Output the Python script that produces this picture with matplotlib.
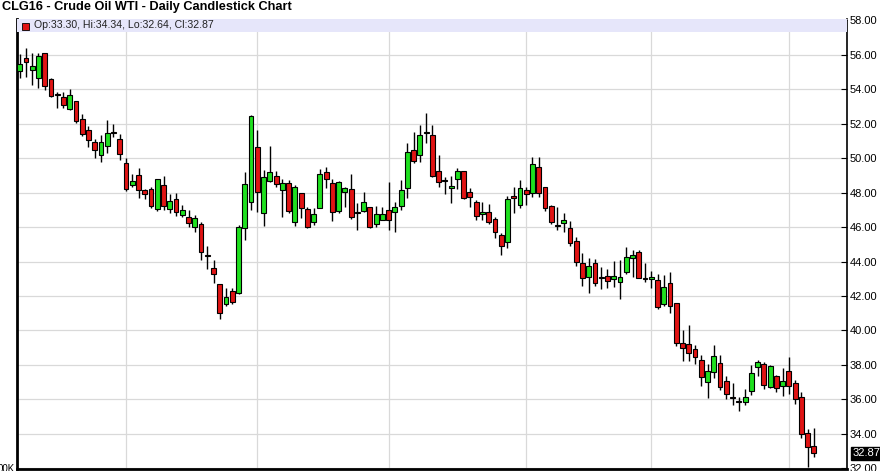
import matplotlib
matplotlib.use("Agg")
import matplotlib.pyplot as plt
from matplotlib.patches import Rectangle

plt.rcParams['font.family'] = ['Liberation Sans', 'DejaVu Sans']

# daily OHLC, CLG16 (mid Jul 2015 .. early Jan 2016)
opens = [55.03, 55.77, 55.13, 54.65, 56.06, 54.60, 53.70, 53.55, 52.87, 53.30,
         52.25, 51.61, 50.90, 50.20, 50.72, 51.47, 51.13, 49.74, 48.46, 49.00,
         48.17, 48.23, 47.02, 48.41, 47.02, 47.60, 46.67, 46.56, 45.98, 46.15,
         44.38, 43.60, 42.67, 41.51, 42.31, 42.15, 45.92, 47.47, 50.62, 46.79,
         48.68, 48.95, 48.14, 48.53, 46.27, 47.95, 47.02, 46.27, 47.12, 49.17,
         48.53, 46.92, 48.01, 48.18, 46.79, 46.92, 47.14, 46.17, 46.40, 46.98,
         46.85, 47.21, 48.24, 50.46, 50.17, 51.50, 51.33, 49.26, 48.68, 48.28,
         48.80, 49.22, 48.01, 47.43, 46.73, 46.89, 46.46, 45.53, 45.11, 47.79,
         47.27, 48.14, 47.95, 49.46, 48.30, 47.23, 46.10, 46.25, 45.92, 45.19,
         43.89, 43.12, 43.89, 43.10, 43.16, 42.97, 42.79, 43.37, 44.18, 44.53,
         43.02, 42.98, 42.93, 41.54, 42.73, 41.57, 39.26, 39.20, 38.93, 38.31,
         36.99, 37.61, 38.10, 37.05, 36.17, 35.87, 35.83, 36.47, 37.86, 38.06,
         36.70, 37.38, 36.80, 37.63, 36.93, 36.17, 34.08, 33.30]
highs = [56.03, 56.35, 56.06, 56.06, 56.08, 54.62, 53.84, 53.80, 54.03, 53.32,
         52.54, 51.85, 51.13, 51.32, 52.19, 51.97, 51.42, 50.03, 49.10, 49.45,
         48.20, 48.30, 48.80, 48.95, 47.89, 47.95, 47.27, 46.98, 46.69, 46.31,
         44.92, 44.08, 42.70, 42.44, 42.44, 46.11, 49.20, 52.49, 51.62, 49.30,
         50.69, 49.26, 48.78, 48.72, 48.43, 47.97, 47.18, 47.08, 49.36, 49.50,
         48.76, 48.66, 48.34, 49.07, 47.37, 48.05, 47.16, 47.21, 47.18, 48.63,
         47.47, 48.72, 50.85, 51.49, 51.91, 52.63, 51.91, 50.17, 48.92, 48.95,
         49.40, 49.24, 48.24, 47.56, 47.47, 47.33, 46.60, 45.63, 47.81, 48.30,
         48.72, 48.30, 50.04, 50.04, 48.32, 47.25, 47.15, 46.79, 46.37, 45.44,
         44.51, 44.18, 44.13, 43.70, 43.55, 44.03, 44.09, 44.82, 44.67, 44.67,
         43.89, 43.47, 43.27, 43.22, 43.41, 41.59, 40.03, 40.32, 39.17, 38.58,
         38.06, 39.17, 38.58, 37.38, 36.95, 36.17, 36.60, 38.00, 38.31, 38.16,
         38.00, 37.40, 37.81, 38.45, 37.13, 36.41, 34.27, 34.34]
lows = [54.62, 54.67, 54.22, 54.07, 53.93, 53.55, 52.90, 52.90, 52.77, 52.04,
        51.28, 50.65, 50.03, 49.78, 50.30, 51.23, 49.87, 48.10, 48.33, 47.71,
        47.65, 47.10, 46.90, 46.98, 46.79, 46.65, 46.60, 46.02, 45.73, 44.08,
        43.54, 42.77, 40.65, 41.44, 41.53, 42.10, 45.24, 46.98, 46.89, 46.06,
        48.63, 48.30, 46.56, 46.79, 46.06, 46.50, 45.92, 46.11, 47.10, 48.24,
        46.36, 46.83, 47.18, 46.46, 45.82, 46.89, 45.92, 45.98, 46.38, 45.82,
        45.73, 46.98, 47.66, 49.69, 49.79, 50.89, 48.88, 48.34, 47.91, 47.37,
        48.18, 47.64, 47.18, 46.40, 46.40, 46.17, 45.34, 44.37, 44.76, 46.79,
        47.08, 47.27, 47.72, 47.76, 46.94, 46.17, 45.80, 45.73, 44.90, 43.76,
        42.58, 42.19, 42.58, 42.39, 42.45, 42.50, 41.81, 43.27, 43.12, 43.02,
        42.83, 42.44, 41.23, 41.42, 40.99, 39.10, 38.25, 38.25, 38.06, 36.80,
        36.08, 37.22, 36.56, 36.02, 35.69, 35.34, 35.67, 36.27, 37.38, 36.60,
        36.64, 36.41, 36.21, 36.31, 35.73, 33.79, 32.08, 32.64]
closes = [55.45, 55.57, 55.32, 55.90, 54.16, 53.60, 53.65, 53.10, 53.64, 52.15,
          51.42, 51.07, 50.49, 50.94, 51.46, 51.44, 50.26, 48.23, 48.64, 48.14,
          47.94, 47.23, 48.76, 47.21, 47.52, 46.89, 46.96, 46.21, 46.50, 44.57,
          44.34, 43.25, 40.99, 41.96, 41.67, 45.98, 48.47, 52.43, 48.05, 48.88,
          49.17, 48.49, 48.57, 46.94, 48.34, 47.12, 46.00, 46.73, 49.07, 48.76,
          46.85, 48.59, 48.24, 46.56, 46.89, 47.43, 46.00, 46.73, 46.73, 46.40,
          47.18, 48.14, 50.33, 49.82, 51.33, 51.45, 48.95, 48.59, 48.64, 48.39,
          49.22, 47.66, 47.72, 46.65, 46.85, 46.27, 45.69, 44.90, 47.62, 47.66,
          48.24, 47.91, 49.63, 47.99, 47.08, 46.31, 46.06, 46.41, 45.09, 43.99,
          43.02, 43.76, 42.73, 43.06, 42.87, 43.18, 43.12, 44.28, 44.38, 43.02,
          43.00, 43.12, 41.34, 42.50, 41.42, 39.26, 39.00, 38.68, 38.45, 37.28,
          37.63, 38.54, 36.74, 36.31, 36.06, 35.85, 36.17, 37.51, 38.16, 36.83,
          37.92, 36.64, 37.05, 36.76, 36.02, 33.98, 33.26, 32.87]

# first trading day of each month: Aug 3, Sep 1, Oct 1, Nov 2, Dec 1, Jan 4
month_starts = [17, 38, 59, 81, 101, 123]
price_ticks = list(range(32, 60, 2))

W, H = 880, 471
fig = plt.figure(figsize=(W / 100, H / 100), dpi=100)
ax = fig.add_axes([17 / W, 1 - 469 / H, 830 / W, 450 / H])

n = len(opens)
x = list(range(n))

# grid
for p in price_ticks:
    ax.axhline(p, color='#d9d9d9', lw=0.9, zorder=0)
for m in month_starts:
    ax.axvline(m, color='#d9d9d9', lw=0.9, zorder=0)

# wicks
ax.vlines(x, lows, highs, color='black', lw=1.0, zorder=2)

# bodies
up = '#1fe01f'
down = '#e01414'
bottoms = [min(o, c) for o, c in zip(opens, closes)]
heights = [max(abs(c - o), 0.06) for o, c in zip(opens, closes)]
colors = [up if c >= o else down for o, c in zip(opens, closes)]
ax.bar(x, heights, bottom=bottoms, width=0.78, color=colors,
       edgecolor='black', linewidth=0.8, zorder=3)

# legend band on top
ax.axhspan(57.32, 58.2, color='#e6e6fa', zorder=4, lw=0)

ax.set_xlim(-0.43, 132.3)
ax.set_ylim(31.97, 58.06)

ax.yaxis.tick_right()
ax.set_yticks(price_ticks)
ax.set_yticklabels([f'{p:.2f}' for p in price_ticks])
ax.tick_params(axis='y', direction='in', length=4, width=0.8, pad=2,
               labelsize=8, colors='black')
ax.set_xticks([])

for s in ['left', 'bottom']:
    ax.spines[s].set_linewidth(2)
ax.spines['right'].set_linewidth(1.2)
ax.spines['top'].set_linewidth(0.6)
ax.spines['top'].set_color('#999999')

# title and OHLC readout
fig.text(2 / W, 1 - 7 / H, 'CLG16 - Crude Oil WTI - Daily Candlestick Chart',
         ha='left', va='center', fontsize=9.2, fontweight='bold')
fig.patches.append(Rectangle((22 / W, 1 - 29.5 / H), 7 / W, 7 / H,
                             transform=fig.transFigure, facecolor=down,
                             edgecolor='black', lw=0.6, zorder=10))
fig.text(34 / W, 1 - 25.5 / H,
         f'Op:{opens[-1]:.2f}, Hi:{highs[-1]:.2f}, Lo:{lows[-1]:.2f}, Cl:{closes[-1]:.2f}',
         ha='left', va='center', fontsize=7.6, color='#222222')

# last price marker
ax.annotate(f'{closes[-1]:.2f}', xy=(1, closes[-1]), xycoords=('axes fraction', 'data'),
            xytext=(4, 0), textcoords='offset points', ha='left', va='center',
            fontsize=8, color='white', annotation_clip=False,
            bbox=dict(boxstyle='square,pad=0.1', fc='black', ec='black'))

# cut-off volume pane label
fig.text(15 / W, 1 - 469 / H, '00K', ha='right', va='center', fontsize=7)

fig.savefig('out.png', dpi=100)
